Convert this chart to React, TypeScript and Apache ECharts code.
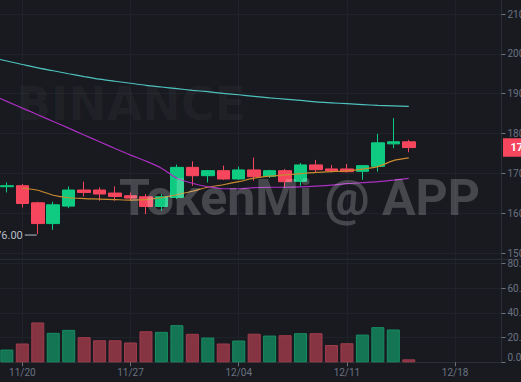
import React, { useEffect, useRef } from 'react';
import * as echarts from 'echarts';

// Daily categories (11/18 .. 12/21)
const categories = [
  '11/18', '11/19', '11/20', '11/21', '11/22', '11/23', '11/24', '11/25', '11/26', '11/27', '11/28', '11/29', '11/30',
  '12/01', '12/02', '12/03', '12/04', '12/05', '12/06', '12/07', '12/08', '12/09', '12/10', '12/11', '12/12', '12/13',
  '12/14', '12/15', '12/16', '12/17', '12/18', '12/19', '12/20', '12/21',
];

const opens = [null, 16664, 16689, 16260, 15739, 16177, 16581, 16581, 16505, 16437, 16412, 16167, 16394, 17150, 16941, 17067, 16858, 17085, 16924, 17067, 16798, 17211, 17110, 17110, 17050, 17176, 17740, 17791];
const closes = [null, 16689, 16243, 15739, 16210, 16581, 16520, 16480, 16419, 16379, 16167, 16412, 17150, 16941, 17067, 16858, 17085, 16916, 17067, 16790, 17211, 17092, 17060, 17042, 17193, 17766, 17791, 17647];
const lows = [null, 16520, 16142, 15476, 15580, 16127, 16419, 16311, 16311, 16311, 15976, 16059, 16354, 16689, 16772, 16833, 16833, 16815, 16883, 16631, 16689, 17024, 17024, 17024, 16840, 17042, 17630, 17529];
const highs = [null, 16772, 16732, 16286, 16286, 16672, 16790, 16646, 16672, 16520, 16480, 16480, 17219, 17302, 17085, 17193, 17168, 17395, 17090, 17110, 17261, 17337, 17211, 17236, 17211, 17992, 18386, 17841];
const volumes = [null, 10.3, 15.2, 32.2, 23.8, 26.2, 20.3, 17.8, 17.8, 16.0, 25.1, 24.6, 30.0, 23.0, 20.0, 15.2, 17.6, 23.1, 21.6, 21.9, 23.5, 23.5, 14.0, 15.4, 22.4, 28.4, 26.5, 2.4];

const ma7 = [null, null, 16626, 16576, 16450, 16387, 16366, 16354, 16341, 16329, 16341, 16387, 16462, 16550, 16651, 16714, 16790, 16878, 16929, 16959, 16992, 17024, 17042, 17062, 17105, 17168, 17319, 17387];
const ma25 = [18971, 18807, 18638, 18471, 18303, 18134, 17962, 17793, 17622, 17458, 17307, 17130, 16878, 16752, 16664, 16613, 16613, 16639, 16651, 16651, 16659, 16677, 16702, 16740, 16765, 16790, 16828, 16873];
const ma99 = [19908, 19820, 19732, 19646, 19576, 19500, 19429, 19364, 19311, 19261, 19210, 19168, 19127, 19084, 19049, 19008, 18973, 18933, 18895, 18862, 18832, 18792, 18769, 18749, 18726, 18706, 18693, 18681];

const priceTicks = { min: 15000, max: 21000, step: 1000 };
const volumeTicks = { min: 0, max: 80, step: 20 };

const BG = '#181a20';
const UP = '#0ecb81';
const DOWN = '#f6465d';
const GRID_LINE = '#1f2329';
const AXIS_LINE = '#2b2f36';
const LABEL = '#6b7280';
const FONT = 'Roboto, "Noto Sans", sans-serif';

export default function App() {
  const ref = useRef<HTMLDivElement>(null);

  useEffect(() => {
    const el = ref.current;
    if (!el) return;
    const chart = echarts.init(el, null, { renderer: 'svg' });

    const gridLeft = -8.6;
    const gridRight = 19.5;
    const tickEvery = (idx: number) => (idx - 2) % 7 === 0;

    const candleData = categories.map((_, i) =>
      i < opens.length && opens[i] != null ? [opens[i], closes[i], lows[i], highs[i]] : '-'
    );
    const volData = categories.map((_, i) => {
      if (i >= volumes.length || volumes[i] == null) return '-';
      const up = (closes[i] as number) >= (opens[i] as number);
      return {
        value: volumes[i],
        itemStyle: {
          color: up ? '#137553' : '#873442',
          borderColor: up ? '#178e62' : '#a03c4d',
          borderWidth: 1,
        },
      };
    });

    const gridBase = { left: gridLeft, right: gridRight, outerBoundsMode: 'none', containLabel: false };

    const option: any = {
      animation: false,
      backgroundColor: BG,
      textStyle: { fontFamily: FONT },
      grid: [
        { ...gridBase, top: 14, bottom: 129 },
        { ...gridBase, top: 263.3, bottom: 19.7 },
        { ...gridBase, top: 0, bottom: 19.7 },
      ],
      xAxis: [
        { type: 'category', gridIndex: 0, data: categories, boundaryGap: false, show: false },
        { type: 'category', gridIndex: 1, data: categories, boundaryGap: false, show: false },
        {
          type: 'category', gridIndex: 2, data: categories, boundaryGap: false,
          axisLine: { show: true, onZero: false, lineStyle: { color: AXIS_LINE } },
          axisTick: { show: true, length: 4, interval: tickEvery, lineStyle: { color: LABEL } },
          axisLabel: { interval: tickEvery, color: LABEL, fontSize: 10, margin: 5, fontFamily: FONT, hideOverlap: false },
          splitLine: { show: true, interval: tickEvery, lineStyle: { color: GRID_LINE } },
        },
      ],
      yAxis: [
        {
          type: 'value', gridIndex: 0, position: 'right',
          min: priceTicks.min, max: priceTicks.max, interval: priceTicks.step,
          axisLine: { show: false },
          axisTick: { show: true, length: 4, lineStyle: { color: LABEL } },
          axisLabel: { color: LABEL, fontSize: 10, margin: 6, fontFamily: FONT, formatter: (v: number) => v.toFixed(2) },
          splitLine: { show: true, lineStyle: { color: GRID_LINE } },
        },
        {
          type: 'value', gridIndex: 1, position: 'right',
          min: volumeTicks.min, max: volumeTicks.max, interval: volumeTicks.step,
          axisLine: { show: false },
          axisTick: { show: true, length: 4, lineStyle: { color: LABEL } },
          axisLabel: {
            color: LABEL, fontSize: 10, margin: 6, fontFamily: FONT,
            formatter: (v: number) => (v === 0 ? '{z|0.00}' : v.toFixed(2) + 'K'),
            rich: { z: { color: LABEL, fontSize: 10, fontFamily: FONT, padding: [0, 0, 10, 0] } },
          },
          splitLine: { show: true, lineStyle: { color: GRID_LINE } },
        },
        {
          type: 'value', gridIndex: 2, position: 'right',
          axisLine: { show: true, lineStyle: { color: AXIS_LINE } },
          axisTick: { show: false }, axisLabel: { show: false }, splitLine: { show: false },
        },
      ],
      series: [
        {
          type: 'candlestick', xAxisIndex: 0, yAxisIndex: 0, data: candleData, barWidth: 13,
          itemStyle: { color: UP, color0: DOWN, borderColor: UP, borderColor0: DOWN, borderWidth: 1 },
        },
        {
          type: 'line', xAxisIndex: 0, yAxisIndex: 0, data: ma7, symbol: 'none', smooth: 0.3,
          lineStyle: { color: '#c98a2e', width: 1.2 }, z: 3,
        },
        {
          type: 'line', xAxisIndex: 0, yAxisIndex: 0, data: ma25, symbol: 'none', smooth: 0.3,
          lineStyle: { color: '#a92fc0', width: 1.2 }, z: 3,
        },
        {
          type: 'line', xAxisIndex: 0, yAxisIndex: 0, data: ma99, symbol: 'none', smooth: 0.3,
          lineStyle: { color: '#4fc1bd', width: 1.2 }, z: 3,
        },
        { type: 'bar', xAxisIndex: 1, yAxisIndex: 1, data: volData, barWidth: 13 },
      ],
    };
    chart.setOption(option);

    // annotations positioned through the chart's own scales
    let lowIdx = 1;
    lows.forEach((v, i) => {
      if (v != null && (lows[lowIdx] as number) > v) lowIdx = i;
    });
    const lowVal = lows[lowIdx] as number;
    const [lx, ly] = chart.convertToPixel({ xAxisIndex: 0, yAxisIndex: 0 }, [lowIdx, lowVal]) as number[];
    const last = closes.length - 1;
    const lastClose = closes[last] as number;
    const lastUp = lastClose >= (opens[last] as number);
    const [, py] = chart.convertToPixel({ xAxisIndex: 0, yAxisIndex: 0 }, [last, lastClose]) as number[];
    const plotRight = 521 - gridRight;

    chart.setOption({
      graphic: [
        {
          type: 'text', x: 131, y: 104, silent: true,
          style: {
            text: 'BINANCE', font: 'bold 46px "DejaVu Sans"', fill: 'rgba(255,255,255,0.035)',
            align: 'center', verticalAlign: 'middle', textAlign: 'center', textVerticalAlign: 'middle',
          },
        },
        {
          type: 'line', silent: true,
          shape: { x1: 0, y1: 259.3, x2: 521, y2: 259.3 },
          style: { stroke: AXIS_LINE, lineWidth: 1 },
        },
        {
          type: 'line', silent: true,
          shape: { x1: lx - 13, y1: ly + 1, x2: lx - 1, y2: ly + 1 },
          style: { stroke: '#b7bdc6', lineWidth: 1 },
        },
        {
          type: 'text', x: lx - 15, y: ly + 1, silent: true,
          style: {
            text: lowVal.toFixed(2), font: '11px Roboto', fill: '#b7bdc6',
            align: 'right', verticalAlign: 'middle', textAlign: 'right', textVerticalAlign: 'middle',
          },
        },
        {
          type: 'text', x: 299.5, y: 198, z: 100, silent: true,
          style: {
            text: 'TokenMi @ APP', font: 'bold 50px Roboto', fill: 'rgba(255,255,255,0.2)',
            align: 'center', verticalAlign: 'middle', textAlign: 'center', textVerticalAlign: 'middle',
          },
        },
        {
          type: 'rect', z: 100, silent: true,
          shape: { x: plotRight + 1.5, y: py - 9.2, width: 40, height: 18.4 },
          style: { fill: lastUp ? UP : DOWN },
        },
        {
          type: 'text', x: plotRight + 9, y: py, z: 101, silent: true,
          style: {
            text: lastClose.toFixed(2), font: 'bold 11px Roboto', fill: '#ffffff',
            align: 'left', verticalAlign: 'middle', textAlign: 'left', textVerticalAlign: 'middle',
          },
        },
      ],
    });

    return () => chart.dispose();
  }, []);

  return (
    <div
      ref={ref}
      style={{ position: 'fixed', left: 0, top: 0, width: 521, height: 382, background: BG }}
    />
  );
}
